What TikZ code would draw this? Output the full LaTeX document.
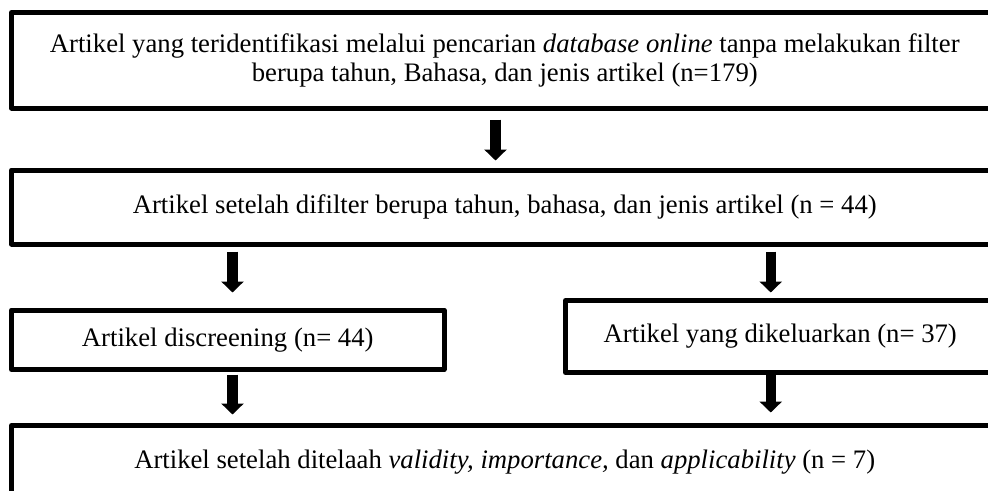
\documentclass[tikz,border=0pt]{standalone}
\usepackage{fontspec}
\setmainfont{Liberation Serif}
\usetikzlibrary{arrows.meta}
\begin{document}
\begin{tikzpicture}[x=1pt,y=-1pt,
  box/.style={draw=black,line width=5pt,line join=round,inner sep=0pt,
    align=center,font=\fontsize{26.7pt}{29.5pt}\selectfont},
  arr/.style={line width=10.5pt,-{Triangle[width=22pt,length=11pt]}}]
\clip (0,0) rectangle (988,490);
\fill[white] (0,0) rectangle (988,490);
\node[box,minimum width=986.5pt,minimum height=95.5pt] (b1) at (504.75,60.25)
  {Artikel yang teridentifikasi melalui pencarian \textit{database online} tanpa melakukan filter\\
   berupa tahun, Bahasa, dan jenis artikel (n=179)};
\node[box,minimum width=986.5pt,minimum height=74pt] (b2) at (504.75,207)
  {Artikel setelah difilter berupa tahun, bahasa, dan jenis artikel (n = 44)};
\node[box,minimum width=432.5pt,minimum height=59.5pt] (b3) at (227.75,339.75)
  {Artikel discreening (n= 44)};
\node[box,minimum width=429.5pt,minimum height=72pt] (b4) at (780.25,336.5)
  {Artikel yang dikeluarkan (n= 37)};
\node[box,minimum width=986.5pt,minimum height=73.5pt] (b5) at (504.75,462.25)
  {Artikel setelah ditelaah \textit{validity, importance,} dan \textit{applicability} (n = 7)};
\coordinate (c1) at (495.5,0);
\coordinate (cl) at (232.5,0);
\coordinate (cr) at (770.75,0);
\draw[arr,shorten <=9pt,shorten >=7pt] (b1.south -| c1) -- (b2.north -| c1);
\draw[arr,shorten <=5pt,shorten >=15pt] (b2.south -| cl) -- (b3.north -| cl);
\draw[arr,shorten <=5pt,shorten >=5.5pt] (b2.south -| cr) -- (b4.north -| cr);
\draw[arr,shorten <=2.5pt,shorten >=8.5pt] (b3.south -| cl) -- (b5.north -| cl);
\draw[arr,shorten <=0pt,shorten >=10.5pt] (b4.south -| cr) -- (b5.north -| cr);
\end{tikzpicture}
\end{document}
